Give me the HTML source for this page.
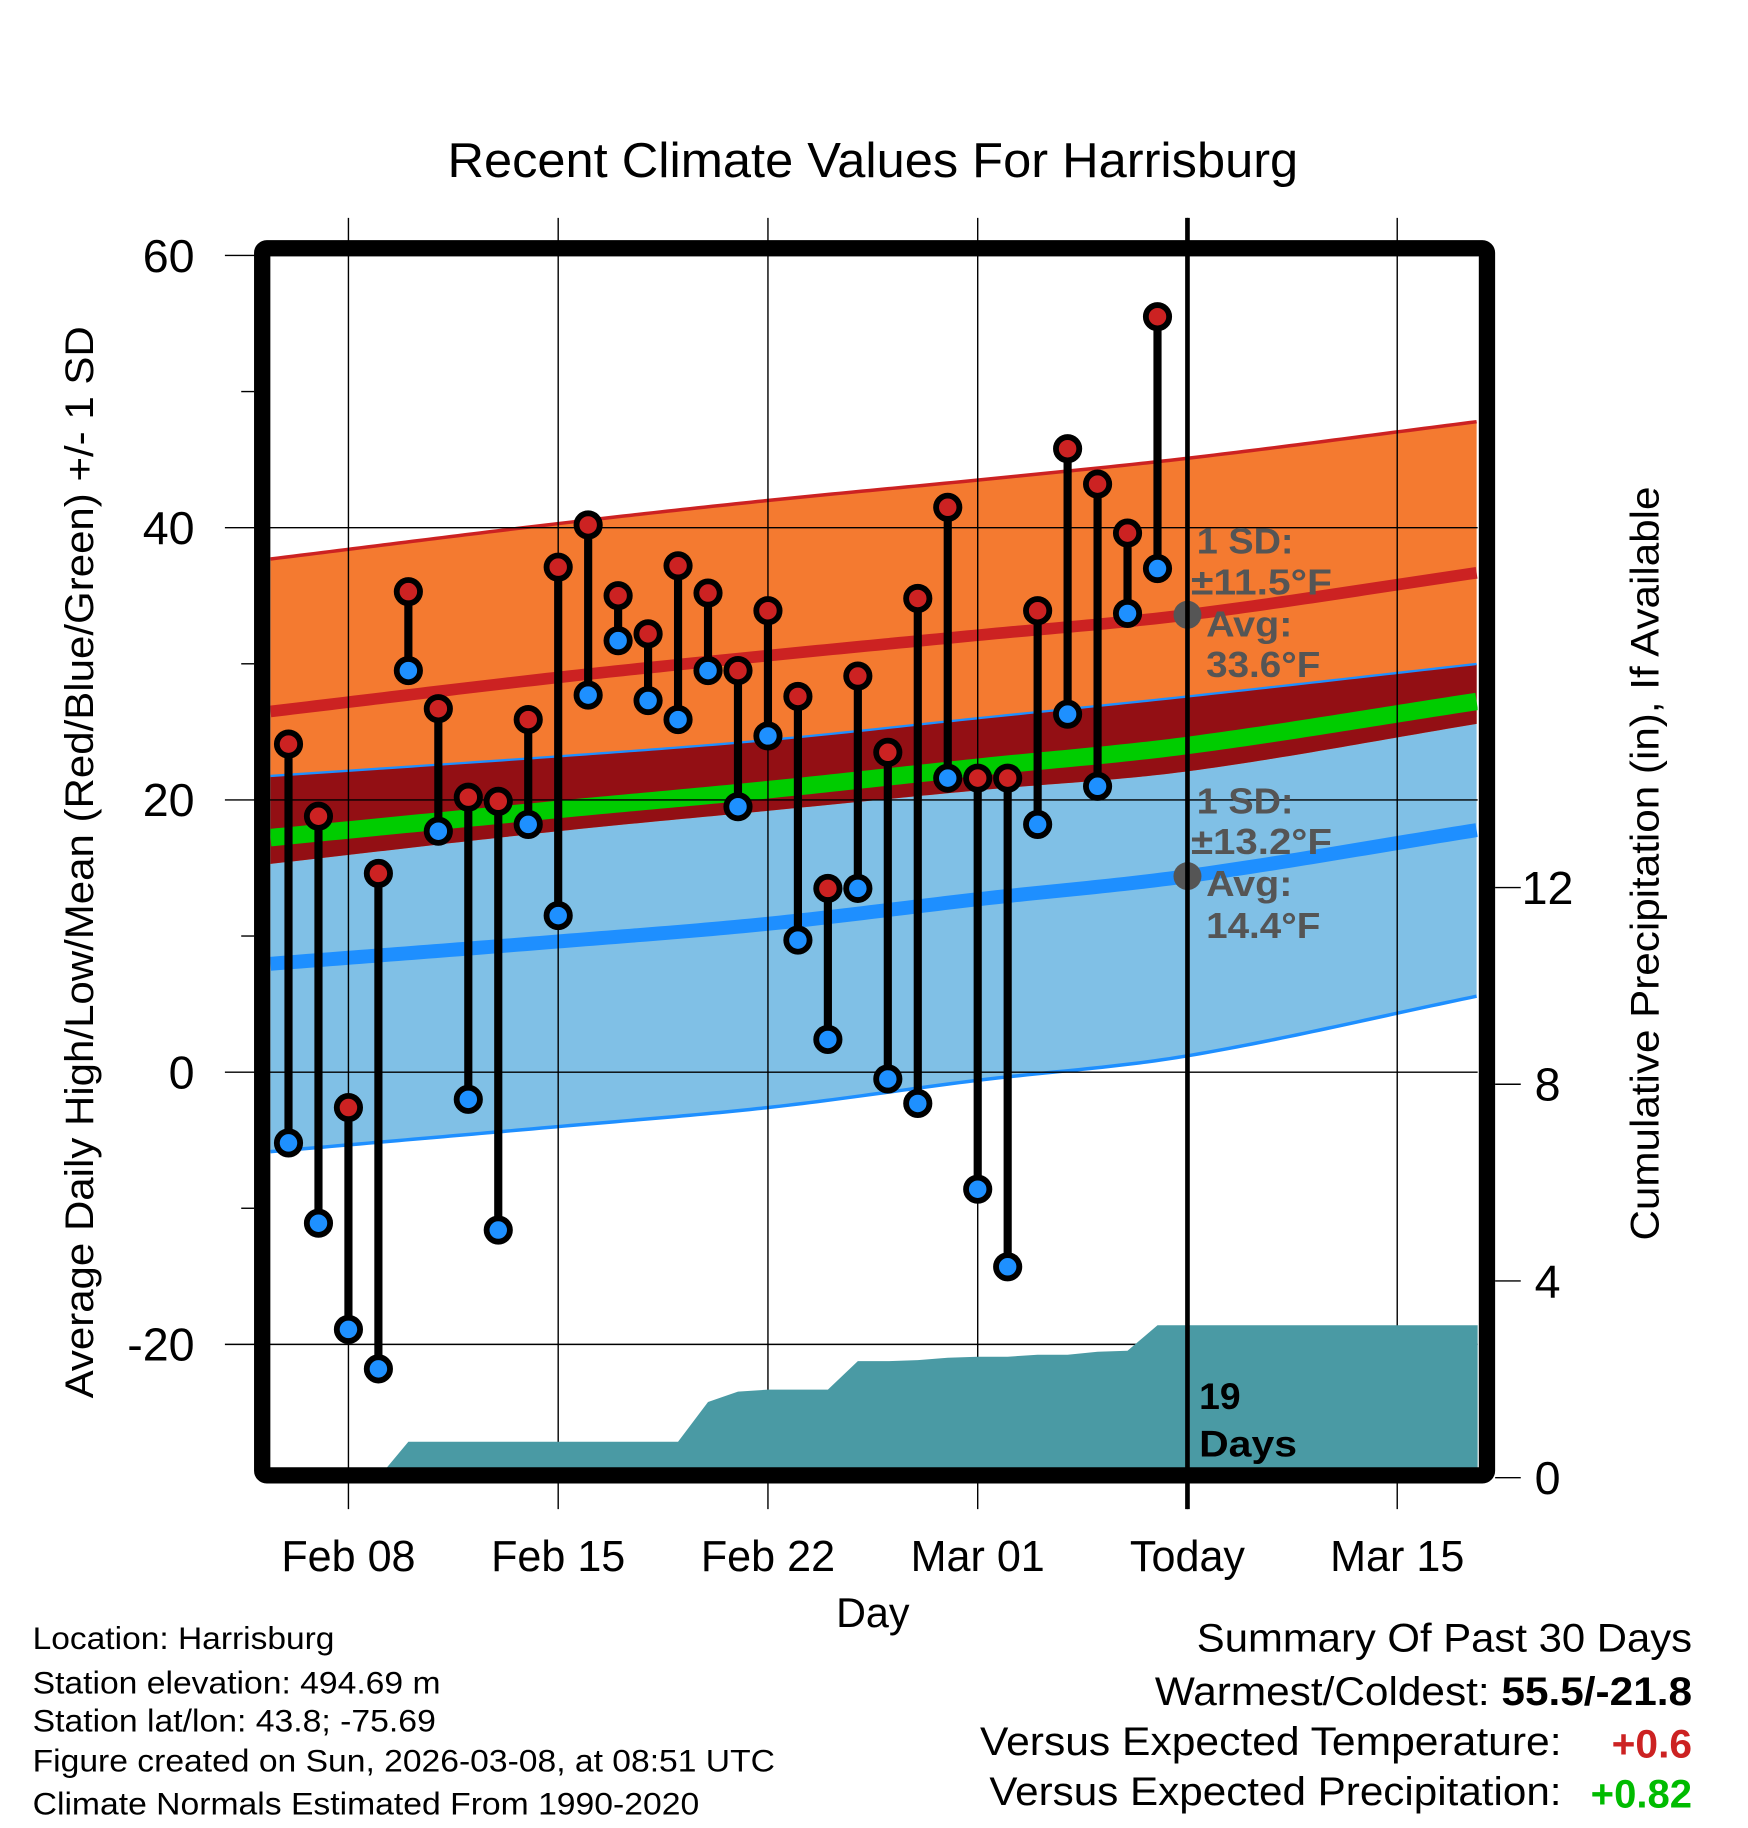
<!DOCTYPE html>
<html><head><meta charset="utf-8"><style>html,body{margin:0;padding:0;background:#fff}svg{display:block}text{font-family:"Liberation Sans",Arial,sans-serif}</style></head>
<body>
<svg id="chart" width="1748" height="1828" viewBox="0 0 1500 1568.6" preserveAspectRatio="none" xmlns="http://www.w3.org/2000/svg">
<defs><clipPath id="pc"><rect x="232" y="218" width="1036" height="1042"/></clipPath></defs>
<text x="749" y="152" font-size="42" text-anchor="middle" textLength="730" lengthAdjust="spacingAndGlyphs">Recent Climate Values For Harrisburg</text>
<g id="bands" clip-path="url(#pc)"></g>
<g id="grid"></g>
<g id="precip" clip-path="url(#pc)"></g>
<g id="marks"></g>
<g id="axes"></g>
<text transform="translate(80,740) rotate(-90)" font-size="34" text-anchor="middle" textLength="920" lengthAdjust="spacingAndGlyphs">Average Daily High/Low/Mean (Red/Blue/Green) +/- 1 SD</text>
<text transform="translate(1423,741) rotate(-90)" font-size="34" text-anchor="middle" textLength="647" lengthAdjust="spacingAndGlyphs">Cumulative Precipitation (in), If Available</text>
<text x="749" y="1396" font-size="36" text-anchor="middle" textLength="63" lengthAdjust="spacingAndGlyphs">Day</text>
<g fill="#555" font-weight="bold" font-size="31">
<text x="1027" y="475" textLength="83" lengthAdjust="spacingAndGlyphs">1 SD:</text><text x="1022" y="510" textLength="121" lengthAdjust="spacingAndGlyphs">±11.5°F</text><text x="1035" y="546" textLength="74" lengthAdjust="spacingAndGlyphs">Avg:</text><text x="1035" y="581" textLength="98" lengthAdjust="spacingAndGlyphs">33.6°F</text></g>
<g fill="#555" font-weight="bold" font-size="31">
<text x="1027" y="698" textLength="83" lengthAdjust="spacingAndGlyphs">1 SD:</text><text x="1022" y="733" textLength="121" lengthAdjust="spacingAndGlyphs">±13.2°F</text><text x="1035" y="769" textLength="74" lengthAdjust="spacingAndGlyphs">Avg:</text><text x="1035" y="805" textLength="98" lengthAdjust="spacingAndGlyphs">14.4°F</text></g>
<text x="1029" y="1209" font-size="32" font-weight="bold">19</text>
<text x="1029" y="1250" font-size="32" font-weight="bold" textLength="84" lengthAdjust="spacingAndGlyphs">Days</text>
<g font-size="27" lengthAdjust="spacingAndGlyphs">
<text x="28" y="1415" textLength="259" lengthAdjust="spacingAndGlyphs">Location: Harrisburg</text>
<text x="28" y="1453" textLength="350" lengthAdjust="spacingAndGlyphs">Station elevation: 494.69 m</text>
<text x="28" y="1486" textLength="346" lengthAdjust="spacingAndGlyphs">Station lat/lon: 43.8; -75.69</text>
<text x="28" y="1520" textLength="637" lengthAdjust="spacingAndGlyphs">Figure created on Sun, 2026-03-08, at 08:51 UTC</text>
<text x="28" y="1557" textLength="572" lengthAdjust="spacingAndGlyphs">Climate Normals Estimated From 1990-2020</text></g>
<g font-size="34">
<text x="1027" y="1417" textLength="425" lengthAdjust="spacingAndGlyphs">Summary Of Past 30 Days</text>
<text x="991" y="1463" textLength="461" lengthAdjust="spacingAndGlyphs">Warmest/Coldest: <tspan font-weight="bold">55.5/-21.8</tspan></text>
<text x="841" y="1506" textLength="499" lengthAdjust="spacingAndGlyphs">Versus Expected Temperature:</text>
<text x="1383" y="1508" fill="#cc2222" font-weight="bold" textLength="69" lengthAdjust="spacingAndGlyphs">+0.6</text>
<text x="849" y="1549" textLength="491" lengthAdjust="spacingAndGlyphs">Versus Expected Precipitation:</text>
<text x="1365" y="1551" fill="#00bb00" font-weight="bold" textLength="87" lengthAdjust="spacingAndGlyphs">+0.82</text></g>
</svg>
<script>
// data
const normDays=[-2.6,7,14,21,28,37.7];
const avgHigh=[26.5,29.0,30.6,32.1,33.6,36.7];
const sdHigh=[11.2,11.3,11.4,11.4,11.5,11.1];
const avgLow=[7.96,9.6,10.9,12.7,14.4,17.8];
const sdLow=[13.8,13.6,13.5,13.3,13.2,12.2];
const highs=[24.1,18.8,-2.6,14.6,35.3,26.7,20.2,19.9,25.9,37.1,40.2,35.0,32.2,37.2,35.2,29.5,33.9,27.6,13.5,29.1,23.5,34.8,41.5,21.6,21.6,33.9,45.8,43.2,39.6,55.5];
const lows=[-5.2,-11.1,-18.9,-21.8,29.5,17.7,-2.0,-11.6,18.2,11.5,27.7,31.7,27.3,25.9,29.5,19.5,24.7,9.7,2.4,13.5,-0.5,-2.3,21.6,-8.6,-14.3,18.2,26.3,21.0,33.7,37.0];
const precip=[0,0,0,0,0.73,0.73,0.73,0.73,0.73,0.73,0.73,0.73,0.73,0.73,1.54,1.75,1.79,1.79,1.79,2.37,2.37,2.39,2.44,2.46,2.46,2.50,2.50,2.56,2.58,3.1];
const firstDay=-2; // Feb 6 relative to Feb 8
const xTickLabels=["Feb 08","Feb 15","Feb 22","Mar 01","Today","Mar 15"];
const xTickDays=[0,7,14,21,28,35];
const yTicks=[60,40,20,0,-20];
const y2Ticks=[0,4,8,12];

const X=d=>299+d*25.714, Y=t=>920-t*11.68, Y2=p=>1268-p*42.2;
const NS="http://www.w3.org/2000/svg";
function mk(tag,attrs,parent){const e=document.createElementNS(NS,tag);for(const k in attrs)e.setAttribute(k,attrs[k]);parent.appendChild(e);return e;}
// monotone-ish smooth interpolation (Catmull-Rom on non-uniform knots)
function interp(arr,d){const n=normDays.length;let i=0;while(i<n-2&&d>normDays[i+1])i++;
const x0=normDays[i],x1=normDays[i+1],y0=arr[i],y1=arr[i+1];
const m0=i>0?(arr[i+1]-arr[i-1])/(normDays[i+1]-normDays[i-1]):(y1-y0)/(x1-x0);
const m1=i<n-2?(arr[i+2]-arr[i])/(normDays[i+2]-normDays[i]):(y1-y0)/(x1-x0);
const h=x1-x0,t=(d-x0)/h,t2=t*t,t3=t2*t;
return (2*t3-3*t2+1)*y0+(t3-2*t2+t)*h*m0+(-2*t3+3*t2)*y1+(t3-t2)*h*m1;}
const samp=[];for(let d=-2.6;d<=37.71;d+=0.25)samp.push(d);
const f=(fn)=>samp.map(d=>[X(d),Y(fn(d))]);
const hi=d=>interp(avgHigh,d),sh=d=>interp(sdHigh,d),lo=d=>interp(avgLow,d),sl=d=>interp(sdLow,d);
function band(top,bot,fill,name){const a=f(top),b=f(bot).reverse();const p=mk('path',{d:'M'+a.concat(b).map(q=>q.join(',')).join('L')+'Z',fill:fill},document.getElementById('bands'));

}
function line(fn,stroke,w,name){const p=mk('polyline',{points:f(fn).map(q=>q.join(',')).join(' '),fill:'none',stroke:stroke,'stroke-width':w},document.getElementById('bands'));

}
band(d=>lo(d)+sl(d),d=>lo(d)-sl(d),'#80c0e6','low-sd-band');
band(d=>hi(d)+sh(d),d=>hi(d)-sh(d),'#f47a30','high-sd-band');
band(d=>Math.max(lo(d)+sl(d),hi(d)-sh(d)),d=>hi(d)-sh(d),'#930f14','overlap-band');
line(d=>(hi(d)+lo(d))/2,'#00cc00',15,'mean-line');
line(d=>lo(d)+sl(d),'#1e8fff',2,'low-plus-sd-line');
line(d=>lo(d)-sl(d),'#1e8fff',3,'low-minus-sd-line');
line(d=>hi(d)+sh(d),'#cc2222',3,'high-plus-sd-line');
line(hi,'#cc2222',10,'avg-high-line');
line(lo,'#1e8fff',12,'avg-low-line');

const grid=document.getElementById('grid');
xTickDays.forEach(d=>{const l=mk('line',{x1:X(d),x2:X(d),y1:187,y2:1295,stroke:'#000','stroke-width':1.2},grid);

});
yTicks.forEach(t=>{const l=mk('line',{x1:193,x2:1268,y1:Y(t),y2:Y(t),stroke:'#000','stroke-width':1.2},grid);

});

const pg=document.getElementById('precip');
let pts=precip.map((p,i)=>[X(firstDay+i),Y2(p)]);
pts.push([1275,Y2(precip[precip.length-1])]);
const pa=mk('path',{d:'M'+X(firstDay)+',1270L'+pts.map(q=>q.join(',')).join('L')+'L1275,1270Z',fill:'#4a9aa4'},pg);



const mg=document.getElementById('marks');
highs.forEach((h,i)=>{const x=X(firstDay+i);
const s=mk('line',{x1:x,x2:x,y1:Y(h),y2:Y(lows[i]),stroke:'#000','stroke-width':7},mg);

});
highs.forEach((h,i)=>{const x=X(firstDay+i);
const c1=mk('circle',{cx:x,cy:Y(h),r:10,fill:'#cc2222',stroke:'#000','stroke-width':5},mg);


const c2=mk('circle',{cx:x,cy:Y(lows[i]),r:10,fill:'#1e90ff',stroke:'#000','stroke-width':5},mg);

});
[hi(28),lo(28)].forEach(v=>{const c=mk('circle',{cx:X(28),cy:Y(v),r:12,fill:'#555'},mg);

});

const ax=document.getElementById('axes');
const fr=mk('rect',{x:225,y:213,width:1051,height:1053,fill:'none',stroke:'#000','stroke-width':14,rx:4},ax);


const tl=mk('line',{x1:X(28),x2:X(28),y1:187,y2:1295,stroke:'#000','stroke-width':4},ax);


xTickDays.forEach((d,i)=>{const t=mk('text',{x:X(d),y:1348,'font-size':37,'text-anchor':'middle'},ax);t.textContent=xTickLabels[i];

});
yTicks.forEach(v=>{const t=mk('text',{x:167,y:Y(v)+14,'font-size':40,'text-anchor':'end'},ax);t.textContent=v;

});
[50,30,10,-10].forEach(v=>{const l=mk('line',{x1:207,x2:218,y1:Y(v),y2:Y(v),stroke:'#000','stroke-width':1.2},ax);

});
y2Ticks.forEach(v=>{const l=mk('line',{x1:1283,x2:1305,y1:Y2(v),y2:Y2(v),stroke:'#000','stroke-width':1.2},ax);


const t=mk('text',{x:1328,y:Y2(v)+14,'font-size':40,'text-anchor':'middle'},ax);t.textContent=v;

});
</script>
</body></html>
